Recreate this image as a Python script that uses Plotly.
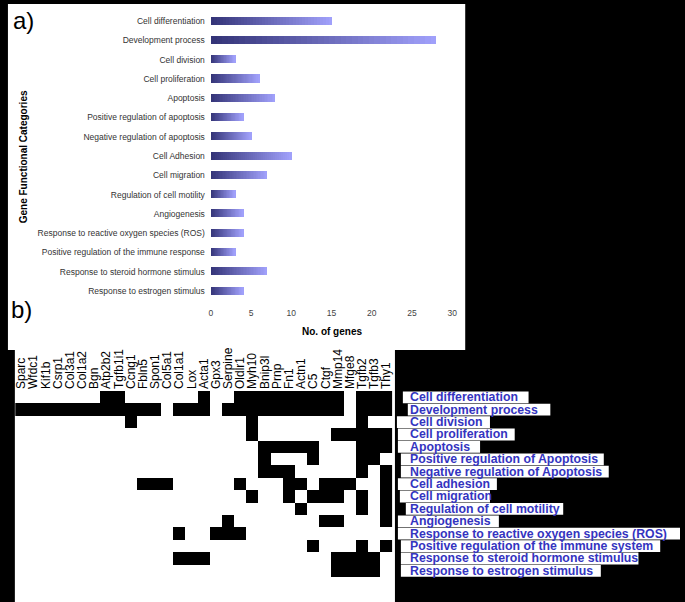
import plotly.graph_objects as go

# ---------------- data ----------------
categories_a = [
    "Cell differentiation", "Development process", "Cell division", "Cell proliferation",
    "Apoptosis", "Positive regulation of apoptosis", "Negative regulation of apoptosis",
    "Cell Adhesion", "Cell migration", "Regulation of cell motility", "Angiogenesis",
    "Response to reactive oxygen species (ROS)", "Positive regulation of the immune response",
    "Response to steroid hormone stimulus", "Response to estrogen stimulus",
]
gene_counts = [15, 28, 3, 6, 8, 4, 5, 10, 7, 3, 4, 4, 3, 7, 4]
x_ticks = [0, 5, 10, 15, 20, 25, 30]

genes = ["Sparc", "Wfdc1", "Kif1b", "Csrp1", "Col3a1", "Col1a2", "Bgn", "Atp2b2", "Tgfb1i1",
         "Ccng1", "Fbln5", "Spon1", "Col5a1", "Col1a1", "Lox", "Acta1", "Gpx3", "Serpine",
         "Oldlr1", "Myh10", "Bnip3l", "Prnp", "Fn1", "Actn1", "C5", "Ctgf", "Mmp14", "Mfge8",
         "Tgfb2", "Tgfb3", "Thy1"]

categories_b = [
    "Cell differentiation", "Development process", "Cell division", "Cell proliferation",
    "Apoptosis", "Positive regulation of Apoptosis", "Negative regulation of Apoptosis",
    "Cell adhesion", "Cell migration", "Regulation of cell motility", "Angiogenesis",
    "Response to reactive oxygen species (ROS)", "Positive regulation of the immune system",
    "Response to steroid hormone stimulus", "Response to estrogen stimulus",
]

# genes annotated to each category (rows of panel b)
members = [
    ["Atp2b2", "Tgfb1i1", "Acta1", "Oldlr1", "Myh10", "Bnip3l", "Prnp", "Fn1", "Actn1", "C5",
     "Ctgf", "Mmp14", "Tgfb2", "Tgfb3", "Thy1"],
    ["Sparc", "Wfdc1", "Kif1b", "Csrp1", "Col3a1", "Col1a2", "Bgn", "Atp2b2", "Tgfb1i1", "Ccng1",
     "Fbln5", "Spon1", "Col1a1", "Lox", "Acta1", "Serpine", "Oldlr1", "Myh10", "Bnip3l", "Prnp",
     "Fn1", "Actn1", "C5", "Ctgf", "Mmp14", "Tgfb2", "Tgfb3", "Thy1"],
    ["Ccng1", "Myh10", "Tgfb2"],
    ["Myh10", "Mmp14", "Mfge8", "Tgfb2", "Tgfb3", "Thy1"],
    ["Bnip3l", "Prnp", "Fn1", "Actn1", "C5", "Tgfb2", "Tgfb3", "Thy1"],
    ["Bnip3l", "C5", "Tgfb2", "Tgfb3"],
    ["Bnip3l", "Prnp", "Fn1", "Tgfb2", "Thy1"],
    ["Fbln5", "Spon1", "Col5a1", "Oldlr1", "Fn1", "Actn1", "Ctgf", "Mmp14", "Mfge8", "Thy1"],
    ["Myh10", "Fn1", "C5", "Ctgf", "Mmp14", "Tgfb2", "Thy1"],
    ["Actn1", "Tgfb2", "Thy1"],
    ["Serpine", "Ctgf", "Mmp14", "Thy1"],
    ["Col1a1", "Gpx3", "Serpine", "Oldlr1"],
    ["C5", "Tgfb2", "Thy1"],
    ["Col1a1", "Lox", "Acta1", "Mmp14", "Mfge8", "Tgfb2", "Tgfb3"],
    ["Mmp14", "Mfge8", "Tgfb2", "Tgfb3"],
]

# ---------------- layout helpers ----------------
W, H = 685, 602
def px(x):
    return x / W
def py(y):
    return 1 - y / H

z = [[1 if g in row else 0 for g in genes] for row in members]

fig = go.Figure()

# gradient bars (stacked segments, dark -> light)
N = 40
c0 = (52, 52, 120)
c1 = (160, 160, 250)
for k in range(N):
    t = k / (N - 1)
    col = "rgb(%d,%d,%d)" % tuple(round(a + (b - a) * t) for a, b in zip(c0, c1))
    fig.add_trace(go.Bar(
        x=[v / N for v in gene_counts], y=categories_a, orientation="h",
        marker=dict(color=col, line=dict(width=0)), width=0.42,
        xaxis="x", yaxis="y", showlegend=False, hoverinfo="skip",
    ))

fig.add_trace(go.Heatmap(
    z=z, x=genes, y=categories_b, xaxis="x2", yaxis="y2",
    colorscale=[[0, "white"], [1, "black"]], zmin=0, zmax=1, showscale=False,
    xgap=0, ygap=0, hoverinfo="skip",
))

font_fam = "Liberation Sans, Arial, sans-serif"

shapes = [
    dict(type="rect", xref="paper", yref="paper", x0=px(6), x1=px(468), y0=py(350), y1=py(4),
         fillcolor="white", line=dict(width=0), layer="below"),
    dict(type="rect", xref="paper", yref="paper", x0=px(13), x1=px(397), y0=py(602), y1=py(350),
         fillcolor="white", line=dict(width=0), layer="below"),
]

# label boxes for panel b (styling)
box_left = [405, 410, 399, 400, 400, 403, 403, 400, 402, 408, 400, 400, 403, 403, 403]
box_right = [532, 554, 493, 518, 483, 608, 613, 500, 493, 567, 502, 685, 665, 643, 605]
row_top = 391
row_h = 12.4
annotations = []
for i, lab in enumerate(categories_b):
    yc = row_top + row_h * (i + 0.5)
    shapes.append(dict(type="rect", xref="paper", yref="paper",
                       x0=px(box_left[i]), x1=px(box_right[i]),
                       y0=py(yc + 6), y1=py(yc - 5.8),
                       fillcolor="white", line=dict(width=0), layer="below"))
    annotations.append(dict(
        text=lab, xref="paper", yref="y2", x=px(410.5), y=lab, xanchor="left", yanchor="middle",
        showarrow=False, font=dict(family=font_fam, size=12.3, color="#3434c0", weight="bold"),
    ))

annotations += [
    dict(text="a)", xref="paper", yref="paper", x=px(9), y=py(21), xanchor="left", yanchor="middle",
         showarrow=False, font=dict(family=font_fam, size=24, color="black")),
    dict(text="b)", xref="paper", yref="paper", x=px(7), y=py(309), xanchor="left", yanchor="middle",
         showarrow=False, font=dict(family=font_fam, size=24, color="black")),
    dict(text="No. of genes", xref="paper", yref="paper", x=px(333), y=py(331), xanchor="center",
         yanchor="middle", showarrow=False,
         font=dict(family=font_fam, size=10, color="black", weight="bold")),
    dict(text="Gene Functional Categories", xref="paper", yref="paper", x=px(21.5), y=py(157),
         xanchor="center", yanchor="middle", textangle=-90, showarrow=False,
         font=dict(family=font_fam, size=10, color="black", weight="bold")),
]

fig.update_layout(
    width=W, height=H, margin=dict(l=0, r=0, t=0, b=0),
    paper_bgcolor="black", plot_bgcolor="white",
    barmode="stack", bargap=0,
    shapes=shapes, annotations=annotations,
    xaxis=dict(domain=[px(211), px(455)], range=[0, 30], tickvals=x_ticks, showgrid=False,
               zeroline=False, showline=False, ticks="", ticklabelstandoff=6,
               tickfont=dict(family=font_fam, size=8.5, color="#444"), anchor="y"),
    yaxis=dict(domain=[py(300.6), py(11.4)], range=[14.5, -0.5], showgrid=False, zeroline=False,
               showline=False, ticks="", ticklabelstandoff=5,
               tickfont=dict(family=font_fam, size=8.5, color="#333"), anchor="x"),
    xaxis2=dict(domain=[px(13.3), px(394.6)], range=[-0.5, 30.5], side="top", tickangle=-90,
                showgrid=False, zeroline=False, showline=False, ticks="", ticklabelstandoff=1,
                tickfont=dict(family=font_fam, size=12, color="black"), anchor="y2",
                tickmode="array", tickvals=genes),
    yaxis2=dict(domain=[py(577), py(391)], range=[14.5, -0.5], showticklabels=False,
                showgrid=False, zeroline=False, showline=False, anchor="x2"),
)

fig.write_html(
    "out.html",
    config={"displayModeBar": False},
    post_script="document.body.style.margin='0';document.body.style.padding='0';"
                "document.body.style.background='black';document.body.style.overflow='hidden';",
)
